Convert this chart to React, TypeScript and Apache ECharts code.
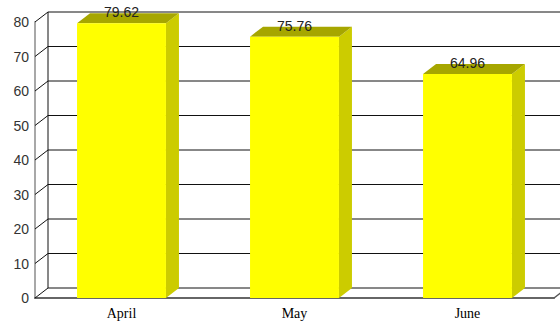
import React, { useEffect, useRef } from "react";
import * as echarts from "echarts";

const categories = ["April", "May", "June"];
const values = [79.62, 75.76, 64.96];
const yTicks = [0, 10, 20, 30, 40, 50, 60, 70, 80];

const DX = 13;
const DY = -10;

export default function App() {
  const ref = useRef<HTMLDivElement>(null);
  useEffect(() => {
    const chart = echarts.init(ref.current!, null, { renderer: "svg" });
    const option: any = {
      animation: false,
      grid: { left: 35, right: 6, top: 22, bottom: 23 },
      xAxis: {
        type: "category",
        data: categories,
        boundaryGap: true,
        axisLine: { show: true, lineStyle: { color: "#666", width: 2 } },
        axisTick: { show: false },
        splitLine: { show: false },
        axisLabel: { fontFamily: "Liberation Serif", fontSize: 14, color: "#000", margin: 8 },
      },
      yAxis: {
        type: "value",
        min: 0,
        max: 80,
        interval: 10,
        axisLine: { show: true, lineStyle: { color: "#a8a8a8", width: 2 } },
        axisTick: { show: false },
        splitLine: { show: false },
        axisLabel: { fontFamily: "Liberation Sans", fontSize: 14, color: "#333", margin: 6 },
      },
      series: [
        {
          type: "custom",
          silent: true,
          z: 1,
          data: [[0, 0]],
          renderItem: (params: any, api: any) => {
            const cs = params.coordSys;
            const x0 = cs.x;
            const x1 = cs.x + cs.width;
            const children: any[] = [];
            const lineStyle = { stroke: "#111", lineWidth: 1 };
            const yTop = api.coord([0, yTicks[yTicks.length - 1]])[1];
            const yBot = api.coord([0, 0])[1];
            yTicks.forEach((t) => {
              const y = api.coord([0, t])[1];
              children.push({
                type: "line",
                shape: { x1: x0 + DX, y1: y + DY, x2: x1 + DX + 20, y2: y + DY },
                style: lineStyle,
              });
              children.push({
                type: "line",
                shape: { x1: x0, y1: y, x2: x0 + DX, y2: y + DY },
                style: lineStyle,
              });
            });
            children.push({
              type: "line",
              shape: { x1: x0 + DX, y1: yTop + DY, x2: x0 + DX, y2: yBot + DY },
              style: lineStyle,
            });
            children.push({
              type: "line",
              shape: { x1: x1, y1: yBot, x2: x1 + DX, y2: yBot + DY },
              style: { stroke: "#555", lineWidth: 1.5 },
            });
            return { type: "group", children };
          },
        },
        {
          type: "custom",
          z: 3,
          data: values.map((v, i) => [i, v]),
          renderItem: (params: any, api: any) => {
            const i = api.value(0);
            const v = api.value(1);
            const top = api.coord([i, v]);
            const bot = api.coord([i, 0]);
            const bw = api.size([1, 0])[0] * 0.514;
            const xl = top[0] - bw / 2;
            const xr = top[0] + bw / 2;
            const yt = top[1];
            const yb = bot[1];
            return {
              type: "group",
              children: [
                {
                  type: "polygon",
                  shape: { points: [[xr, yt], [xr + DX, yt + DY], [xr + DX, yb + DY], [xr, yb]] },
                  style: { fill: "#cccc00" },
                },
                {
                  type: "polygon",
                  shape: { points: [[xl, yt], [xl + DX, yt + DY], [xr + DX, yt + DY], [xr, yt]] },
                  style: { fill: "#a6a600" },
                },
                {
                  type: "rect",
                  shape: { x: xl, y: yt, width: bw, height: yb - yt },
                  style: { fill: "#ffff00" },
                },
                {
                  type: "text",
                  x: top[0],
                  y: yt + DY - 1,
                  style: {
                    text: String(values[i].toFixed(2)),
                    align: "center",
                    verticalAlign: "middle",
                    font: "14px 'Liberation Sans'",
                    fill: "#222",
                  },
                },
              ],
            };
          },
        },
      ],
    };
    chart.setOption(option);
    return () => chart.dispose();
  }, []);
  return <div ref={ref} style={{ width: 560, height: 321, position: "absolute", left: 0, top: 0 }} />;
}
